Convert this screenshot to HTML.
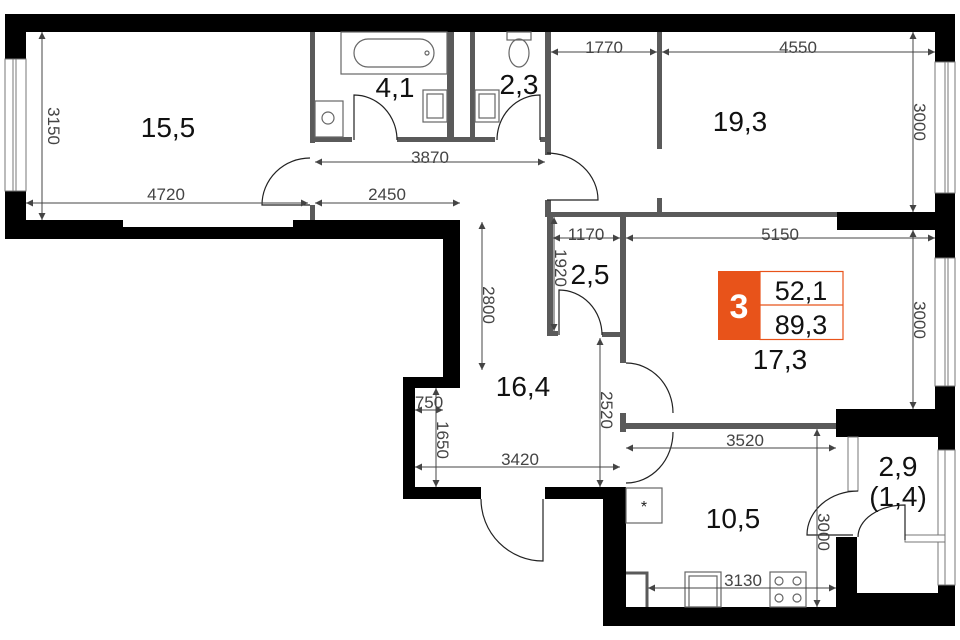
<!DOCTYPE html>
<html><head><meta charset="utf-8"><style>
html,body{margin:0;padding:0;background:#fff;}
svg{display:block;}
text{font-family:"Liberation Sans",sans-serif;}
.d{font-size:17px;fill:#444;}
.r{font-size:28px;fill:#111;}
</style></head><body>
<svg width="960" height="640" viewBox="0 0 960 640" xmlns="http://www.w3.org/2000/svg">
<defs>
<marker id="a" viewBox="0 0 10 10" refX="10" refY="5" markerWidth="9" markerHeight="7" orient="auto-start-reverse" markerUnits="userSpaceOnUse"><path d="M0,0 L10,5 L0,10 z" fill="#444"/></marker>
</defs>
<rect width="960" height="640" fill="#fff"/>
<g fill="#000">
<rect x="5" y="14" width="950" height="18"/>
<rect x="5" y="14" width="21" height="225"/>
<rect x="5" y="220" width="118" height="19"/>
<rect x="123" y="227" width="337" height="12"/>
<rect x="293" y="220" width="167" height="19"/>
<rect x="443" y="220" width="17" height="168"/>
<rect x="403" y="377" width="57" height="11"/>
<rect x="403" y="377" width="12" height="122"/>
<rect x="403" y="487" width="78" height="12"/>
<rect x="545" y="487" width="81" height="12"/>
<rect x="603" y="487" width="23" height="139"/>
<rect x="603" y="607" width="352" height="19"/>
<rect x="935" y="14" width="20" height="241"/>
<rect x="837" y="212" width="118" height="18"/>
<rect x="935" y="255" width="20" height="182"/>
<rect x="836" y="409" width="119" height="28"/>
<rect x="836" y="537" width="21" height="89"/>
<rect x="836" y="593" width="119" height="33"/>
<rect x="938" y="437" width="17" height="189"/>
</g>
<g fill="#fff" stroke="#777" stroke-width="1">
<rect x="5" y="59" width="21" height="132"/>
<line x1="13" y1="59" x2="13" y2="191"/><line x1="16" y1="59" x2="16" y2="191"/>
<rect x="935" y="62" width="20" height="131"/>
<line x1="945" y1="62" x2="945" y2="193"/><line x1="948" y1="62" x2="948" y2="193"/>
<rect x="935" y="258" width="20" height="128"/>
<line x1="945" y1="258" x2="945" y2="386"/><line x1="948" y1="258" x2="948" y2="386"/>
<rect x="938" y="450" width="17" height="135"/>
<line x1="945" y1="450" x2="945" y2="585"/>
<rect x="848" y="437" width="10" height="54"/>
<rect x="905" y="535" width="40" height="7"/>
</g>
<g fill="#5a5a5a">
<rect x="310" y="32" width="5" height="111"/>
<rect x="310" y="205" width="5" height="15"/>
<rect x="310" y="137" width="42" height="5"/>
<rect x="397" y="137" width="98" height="5"/>
<rect x="540" y="137" width="7" height="5"/>
<rect x="447" y="32" width="7" height="108"/>
<rect x="470" y="32" width="5" height="108"/>
<rect x="545" y="32" width="6" height="123"/>
<rect x="545" y="200" width="6" height="17"/>
<rect x="657" y="32" width="5" height="117"/>
<rect x="657" y="198" width="5" height="15"/>
<rect x="545" y="212" width="292" height="5"/>
<rect x="547" y="212" width="6" height="123"/>
<rect x="547" y="331" width="11" height="5"/>
<rect x="602" y="332" width="24" height="5"/>
<rect x="620" y="212" width="6" height="151"/>
<rect x="626" y="423" width="210" height="6"/>
<rect x="620" y="413" width="6" height="19"/>
</g>
<g fill="none" stroke="#666" stroke-width="1.2">
<rect x="341" y="32" width="106" height="42"/>
<rect x="354" y="39" width="80" height="28" rx="14"/>
<circle cx="427" cy="53" r="2"/>
<rect x="315" y="101" width="28" height="36"/>
<circle cx="328" cy="118" r="6"/>
<rect x="423" y="90" width="24" height="32"/><rect x="427" y="94" width="16" height="24"/>
<rect x="475" y="90" width="24" height="32"/><rect x="479" y="94" width="16" height="24"/>
<rect x="507" y="32" width="24" height="8"/>
<ellipse cx="519" cy="53" rx="10" ry="14"/>
<rect x="626" y="488" width="36" height="35"/>
<path d="M626,573 H647 V607" stroke="#5a5a5a" stroke-width="3"/>
<rect x="685" y="572" width="36" height="35"/><rect x="689" y="576" width="28" height="31"/>
<rect x="770" y="572" width="36" height="35"/>
<circle cx="779" cy="581" r="4"/><circle cx="797" cy="581" r="4"/><circle cx="779" cy="598" r="4"/><circle cx="797" cy="598" r="4"/>
</g>
<text x="644" y="512" text-anchor="middle" font-size="16" fill="#222">*</text>
<g fill="none" stroke="#222" stroke-width="1.2">
<path d="M310,158 A48,47 0 0 0 262,205 L310,205"/>
<path d="M354,140 L354,95 A43,45 0 0 1 397,140"/>
<path d="M540,140 L540,95 A43,45 0 0 0 497,140"/>
<path d="M547,153 A51,47 0 0 1 598,200 L547,200"/>
<path d="M559,335 L559,290 A43,45 0 0 1 602,335"/>
<path d="M626,363 A47,50 0 0 1 673,413"/>
<path d="M673,432 A47,51 0 0 1 626,483"/>
<path d="M481,499 A62,62 0 0 0 543,561 L543,499"/>
<path d="M858,491 A51,44 0 0 0 807,535 L853,535"/>
<path d="M858,537 A47,32 0 0 1 905,505 L905,540"/>
</g>
<g stroke="#444" stroke-width="1" marker-start="url(#a)" marker-end="url(#a)">
<line x1="42" y1="32" x2="42" y2="220"/>
<line x1="26" y1="203" x2="308" y2="203"/>
<line x1="315" y1="203" x2="460" y2="203"/>
<line x1="315" y1="162" x2="545" y2="162"/>
<line x1="551" y1="52" x2="657" y2="52"/>
<line x1="662" y1="52" x2="935" y2="52"/>
<line x1="913" y1="32" x2="913" y2="212"/>
<line x1="553" y1="238" x2="620" y2="238"/>
<line x1="626" y1="238" x2="935" y2="238"/>
<line x1="554" y1="217" x2="554" y2="331"/>
<line x1="913" y1="230" x2="913" y2="409"/>
<line x1="482" y1="222" x2="482" y2="370"/>
<line x1="600" y1="338" x2="600" y2="487"/>
<line x1="415" y1="410" x2="443" y2="410"/>
<line x1="436" y1="388" x2="436" y2="487"/>
<line x1="415" y1="467" x2="620" y2="467"/>
<line x1="626" y1="448" x2="836" y2="448"/>
<line x1="817" y1="429" x2="817" y2="607"/>
<line x1="648" y1="588" x2="836" y2="588"/>
</g>
<g class="d">
<text x="166" y="200" text-anchor="middle">4720</text>
<text x="387" y="200" text-anchor="middle">2450</text>
<text x="430" y="163" text-anchor="middle">3870</text>
<text x="604" y="53" text-anchor="middle">1770</text>
<text x="798" y="53" text-anchor="middle">4550</text>
<text x="586" y="240" text-anchor="middle">1170</text>
<text x="780" y="240" text-anchor="middle">5150</text>
<text x="745" y="446" text-anchor="middle">3520</text>
<text x="520" y="465" text-anchor="middle">3420</text>
<text x="429" y="408" text-anchor="middle">750</text>
<text x="743" y="586" text-anchor="middle">3130</text>
<text transform="translate(48,126) rotate(90)" text-anchor="middle">3150</text>
<text transform="translate(914,122) rotate(90)" text-anchor="middle">3000</text>
<text transform="translate(914,320) rotate(90)" text-anchor="middle">3000</text>
<text transform="translate(555,268) rotate(90)" text-anchor="middle">1920</text>
<text transform="translate(483,305) rotate(90)" text-anchor="middle">2800</text>
<text transform="translate(601,410) rotate(90)" text-anchor="middle">2520</text>
<text transform="translate(437,440) rotate(90)" text-anchor="middle">1650</text>
<text transform="translate(818,532) rotate(90)" text-anchor="middle">3000</text>
</g>
<g class="r" text-anchor="middle">
<text x="168" y="137">15,5</text>
<text x="395" y="97">4,1</text>
<text x="519" y="94">2,3</text>
<text x="740" y="131">19,3</text>
<text x="590" y="284">2,5</text>
<text x="780" y="369">17,3</text>
<text x="523" y="396">16,4</text>
<text x="733" y="528">10,5</text>
<text x="898" y="476">2,9</text>
<text x="898" y="506">(1,4)</text>
</g>
<rect x="718" y="271" width="42" height="69" fill="#e8531a"/>
<rect x="760" y="271.5" width="83" height="68" fill="#fff" stroke="#e8531a" stroke-width="1.2"/>
<line x1="760" y1="305" x2="843" y2="305" stroke="#e8531a" stroke-width="1.2"/>
<text x="739" y="318" text-anchor="middle" font-size="34" font-weight="bold" fill="#fff">3</text>
<text x="801" y="300" text-anchor="middle" font-size="27" fill="#111">52,1</text>
<text x="801" y="334" text-anchor="middle" font-size="27" fill="#111">89,3</text>
</svg>
</body></html>
